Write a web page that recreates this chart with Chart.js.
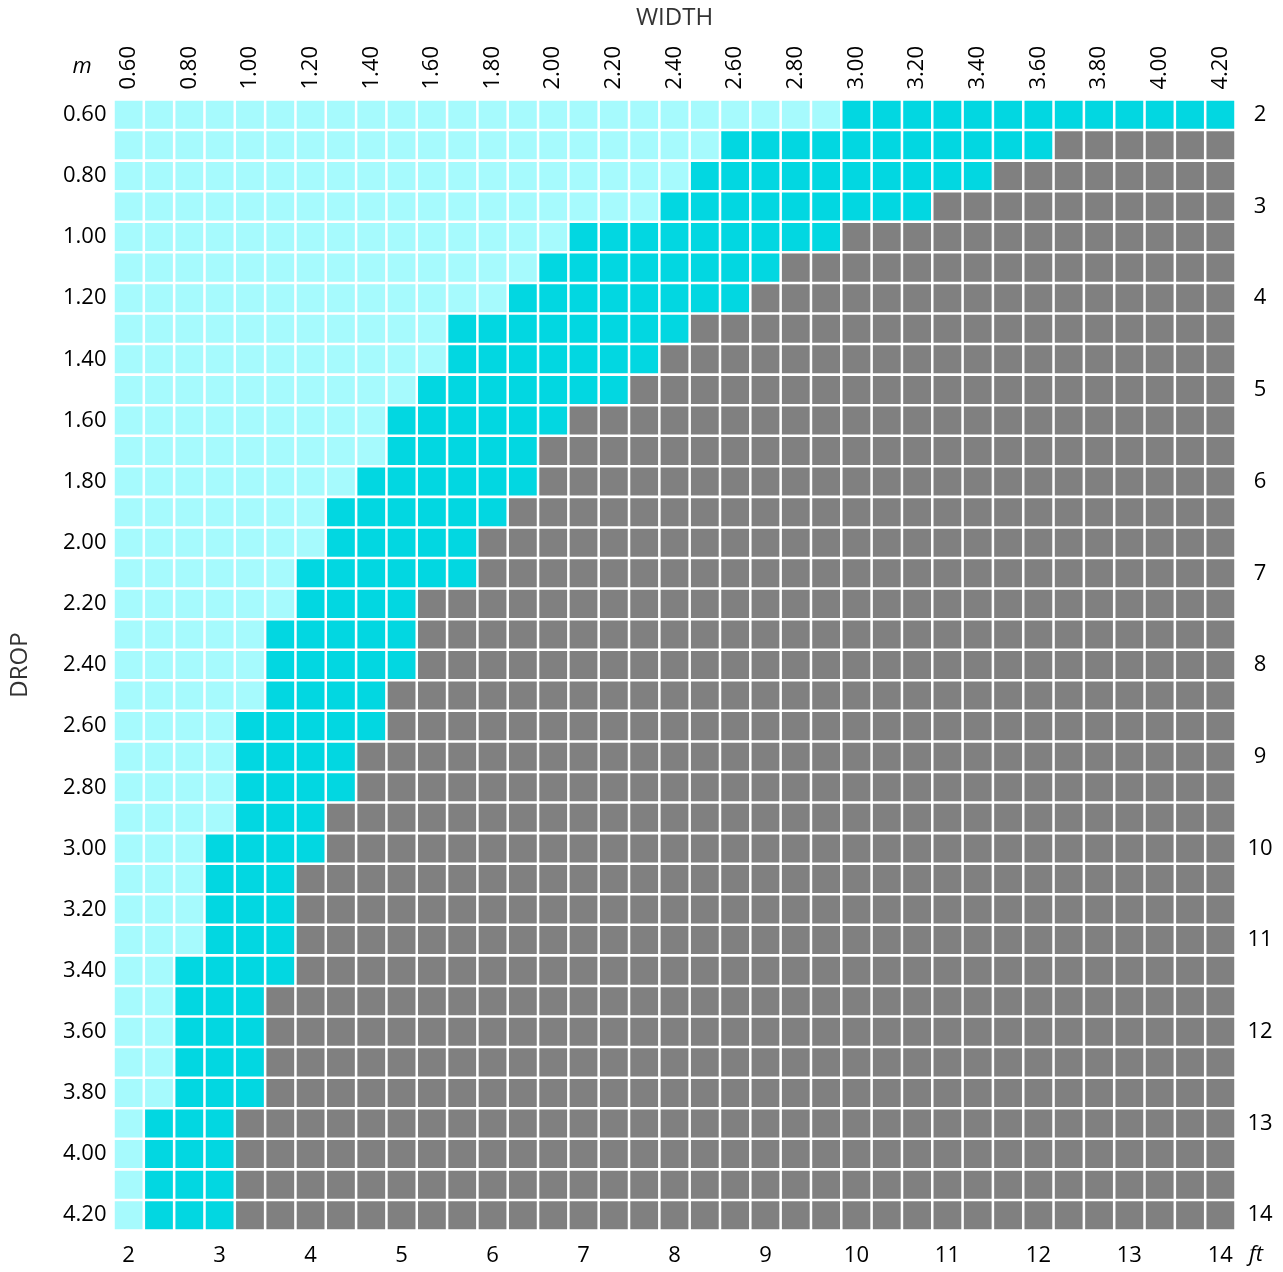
<!DOCTYPE html>
<html><head><meta charset="utf-8">
<script src="https://cdn.jsdelivr.net/npm/chart.js@4"></script>
<style>html,body{margin:0;padding:0;background:#fff;overflow:hidden}
#wrap{position:relative;width:1283px;height:1272px}</style>
</head><body><div id="wrap"><canvas id="c"></canvas></div>
<script>
// ---- data ----
const widths = [0.60,0.70,0.80,0.90,1.00,1.10,1.20,1.30,1.40,1.50,1.60,1.70,1.80,1.90,2.00,2.10,2.20,2.30,2.40,2.50,2.60,2.70,2.80,2.90,3.00,3.10,3.20,3.30,3.40,3.50,3.60,3.70,3.80,3.90,4.00,4.10,4.20];
const drops  = [0.60,0.70,0.80,0.90,1.00,1.10,1.20,1.30,1.40,1.50,1.60,1.70,1.80,1.90,2.00,2.10,2.20,2.30,2.40,2.50,2.60,2.70,2.80,2.90,3.00,3.10,3.20,3.30,3.40,3.50,3.60,3.70,3.80,3.90,4.00,4.10,4.20];
// first width (m) shown in the darker cyan, for each drop
const cyanFrom = [3.00,2.60,2.50,2.40,2.10,2.00,1.90,1.70,1.70,1.60,1.50,1.50,1.40,1.30,1.30,1.20,1.20,1.10,1.10,1.10,1.00,1.00,1.00,1.00,0.90,0.90,0.90,0.90,0.80,0.80,0.80,0.80,0.80,0.70,0.70,0.70,0.70];
// first width (m) shown in grey, for each drop (null = none)
const grayFrom = [null,3.70,3.50,3.30,3.00,2.80,2.70,2.50,2.40,2.30,2.10,2.00,2.00,1.90,1.80,1.80,1.60,1.60,1.60,1.50,1.50,1.40,1.40,1.30,1.30,1.20,1.20,1.20,1.20,1.10,1.10,1.10,1.10,1.00,1.00,1.00,1.00];
const metricTicks = [0.60,0.80,1.00,1.20,1.40,1.60,1.80,2.00,2.20,2.40,2.60,2.80,3.00,3.20,3.40,3.60,3.80,4.00,4.20];
const feetTicks = [2,3,4,5,6,7,8,9,10,11,12,13,14];
const classNames = ['light','cyan','grey'];
const classColors = ['#a6fafd','#02d7e1','#808080'];

// ---- build ----
const half = (widths[1] - widths[0]) / 2;
const mMin = widths[0] - half, mMax = widths[widths.length - 1] + half;
const ftPerCell = (feetTicks[feetTicks.length - 1] - feetTicks[0]) / (widths.length - 1);
const ftMin = feetTicks[0] - ftPerCell / 2, ftMax = feetTicks[feetTicks.length - 1] + ftPerCell / 2;

const cells = [[], [], []];
drops.forEach((d, r) => widths.forEach(w => {
  const k = w < cyanFrom[r] ? 0 : (grayFrom[r] === null || w < grayFrom[r]) ? 1 : 2;
  cells[k].push({ x: [w - half, w + half], y: d });
}));

const FONT = 'Open Sans';
const tickFont = { family: FONT, size: 22 };
const setTicks = list => s => { s.ticks = list.map(v => ({ value: v })); };
const noGrid = { display: false, drawTicks: false, offset: false };

const unitLabels = {
  id: 'units',
  afterDraw(chart) {
    const { ctx, chartArea: a } = chart;
    ctx.save();
    ctx.font = 'italic 22px "' + FONT + '"';
    ctx.fillStyle = '#000';
    ctx.textAlign = 'center';
    ctx.textBaseline = 'middle';
    ctx.fillText('m', a.left - 31.5, a.top - 33);
    ctx.fillText('ft', a.right + 20.5, a.bottom + 24);
    ctx.restore();
  }
};

new Chart(document.getElementById('c'), {
  type: 'bar',
  data: {
    datasets: cells.map((data, k) => ({
      label: classNames[k],
      data,
      backgroundColor: classColors[k],
      borderColor: '#ffffff',
      borderWidth: 1.6,
      borderSkipped: false,
      grouped: false,
      barPercentage: 1,
      categoryPercentage: 1,
      xAxisID: 'x',
      yAxisID: 'y'
    }))
  },
  options: {
    indexAxis: 'y',
    responsive: true,
    maintainAspectRatio: false,
    animation: false,
    layout: { padding: 0 },
    plugins: { legend: { display: false }, tooltip: { enabled: false } },
    scales: {
      x: {
        type: 'linear', position: 'top', min: mMin, max: mMax, offset: false,
        grid: noGrid, border: { display: false },
        afterBuildTicks: setTicks(metricTicks),
        afterFit: s => { s.height = 99.5; },
        ticks: { autoSkip: false, minRotation: 90, maxRotation: 90, padding: 10, labelOffset: 26.4, color: '#000', font: tickFont,
                 callback: v => Number(v).toFixed(2) },
        title: { display: true, text: 'WIDTH', color: '#333', font: { family: FONT, size: 24 }, padding: { top: 4, bottom: 0 } }
      },
      x2: {
        type: 'linear', position: 'bottom', min: ftMin, max: ftMax, offset: false,
        grid: noGrid, border: { display: false },
        afterBuildTicks: setTicks(feetTicks),
        afterFit: s => { s.height = 41.5; },
        ticks: { autoSkip: false, maxRotation: 0, padding: 12, color: '#000', font: tickFont, callback: v => String(v) }
      },
      y: {
        type: 'linear', position: 'left', reverse: true, min: mMin, max: mMax, offset: false,
        grid: noGrid, border: { display: false },
        afterBuildTicks: setTicks(metricTicks),
        afterFit: s => { s.width = 113.5; },
        ticks: { autoSkip: false, padding: 7, color: '#000', font: tickFont, callback: v => Number(v).toFixed(2) },
        title: { display: true, text: 'DROP', color: '#333', font: { family: FONT, size: 24 }, padding: { top: 6, bottom: 0 } }
      },
      y2: {
        type: 'linear', position: 'right', reverse: true, min: ftMin, max: ftMax, offset: false,
        grid: noGrid, border: { display: false },
        afterBuildTicks: setTicks(feetTicks),
        afterFit: s => { s.width = 47.5; },
        ticks: { autoSkip: false, crossAlign: 'center', padding: 12, color: '#000', font: tickFont, callback: v => String(v) }
      }
    }
  },
  plugins: [unitLabels]
});
</script>
</body></html>
